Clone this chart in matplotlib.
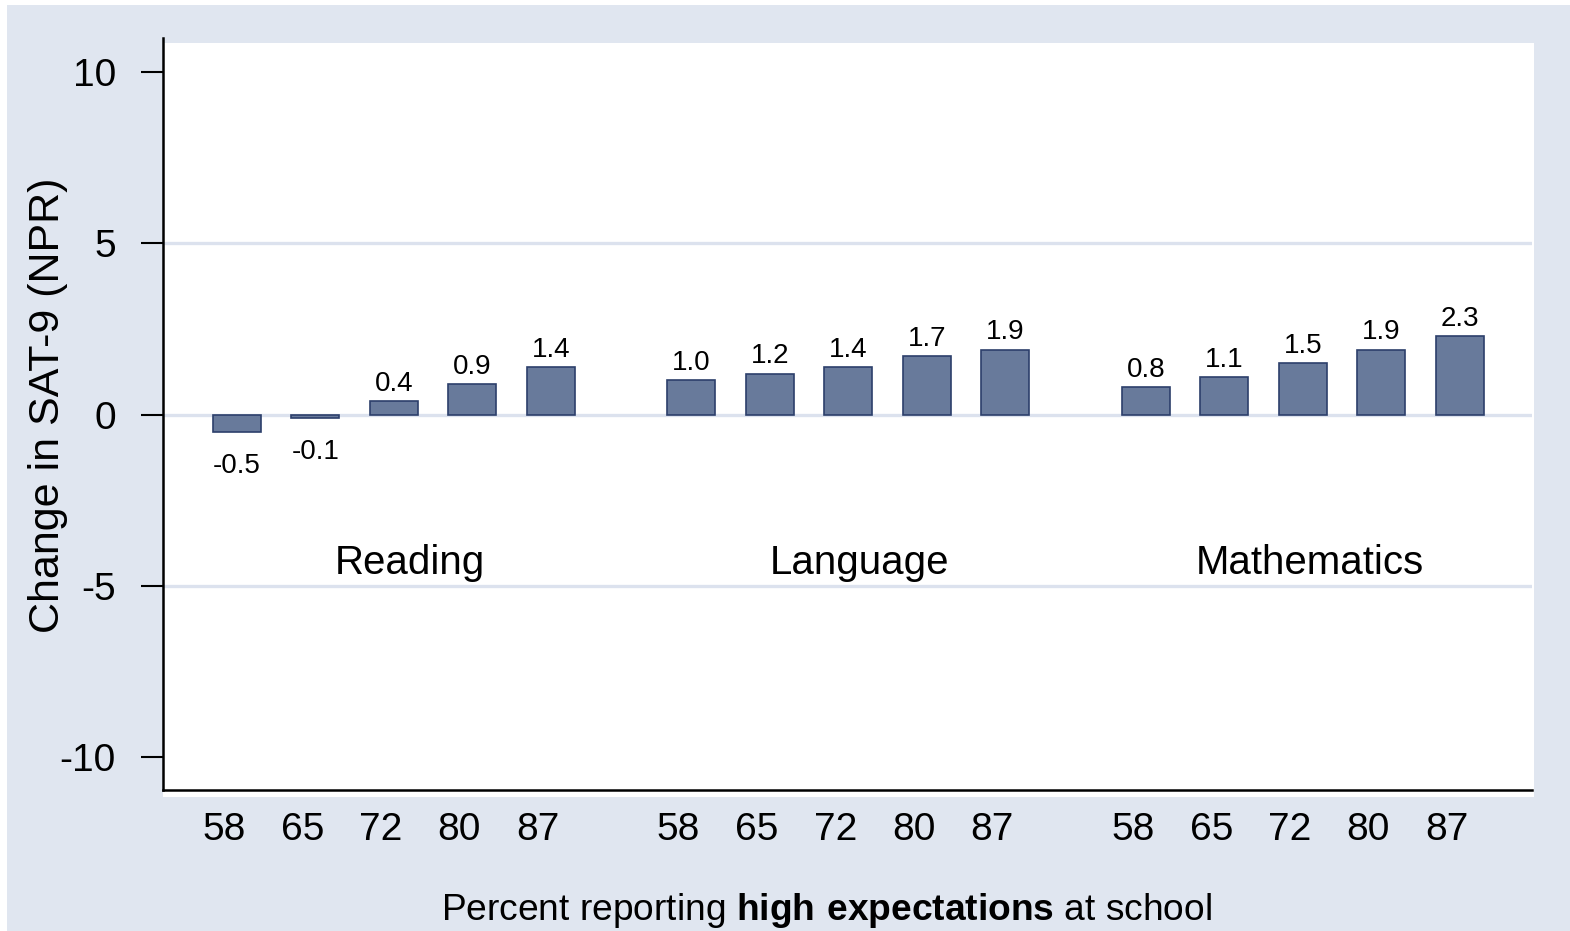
import matplotlib
matplotlib.use("Agg")
import matplotlib.pyplot as plt
import matplotlib.transforms as mtransforms
import numpy as np

plt.rcParams['font.family'] = ['Liberation Sans', 'DejaVu Sans']
plt.rcParams['mathtext.fontset'] = 'custom'
plt.rcParams['mathtext.rm'] = 'Liberation Sans'
plt.rcParams['mathtext.bf'] = 'Liberation Sans:bold'
plt.rcParams['axes.unicode_minus'] = False

subjects = ["Reading", "Language", "Mathematics"]
pct_labels = ["58", "65", "72", "80", "87"]
reading = [-0.5, -0.1, 0.4, 0.9, 1.4]
language = [1.0, 1.2, 1.4, 1.7, 1.9]
mathematics = [0.8, 1.1, 1.5, 1.9, 2.3]
series = [reading, language, mathematics]

BG = "#E0E6F0"
BAR = "#687A9B"
EDGE = "#2C3F6B"
GRID = "#DCE2EE"

fig = plt.figure(figsize=(15.7, 9.31), dpi=100)
fig.patch.set_facecolor("white")
fig.add_artist(plt.Rectangle((7/1570, 0), 1, 1 - 5/931, transform=fig.transFigure,
                             facecolor=BG, edgecolor='none', zorder=-10))
fig.add_artist(plt.Rectangle((163/1570, 1 - 797/931), (1534-163)/1570, (797-43)/931,
                             transform=fig.transFigure, facecolor='white', edgecolor='none', zorder=-5))

ax = fig.add_axes([163/1570, 1 - 790/931, (1532-163)/1570, (790-38)/931])
ax.set_facecolor('none')

group_step = 5.79
width = 0.61
xs, vals, labs = [], [], []
for g, s in enumerate(series):
    for i, v in enumerate(s):
        xs.append(g * group_step + i)
        vals.append(v)
        labs.append(pct_labels[i])

for y in (-5, 0, 5):
    ax.axhline(y, color=GRID, lw=2.4, zorder=0)

bars = ax.bar(xs, vals, width=width, color=BAR, edgecolor=EDGE, linewidth=1.2, zorder=2)
for x, v in zip(xs, vals):
    if v >= 0:
        ax.annotate(f"{v:.1f}", (x, v), xytext=(0, 3), textcoords='offset points',
                    ha='center', va='bottom', fontsize=20)
    else:
        ax.annotate(f"{v:.1f}", (x, v), xytext=(0, -15), textcoords='offset points',
                    ha='center', va='top', fontsize=20)

label_offsets = [0.2, 0.14, 0.09]
for g, name in enumerate(subjects):
    ax.text(g * group_step + 2 + label_offsets[g], -4.33, name, ha='center', va='center', fontsize=29)

ax.set_xticks(xs)
ax.set_xticklabels(labs)
ax.set_xlim(-0.94, 2 * group_step + 4 + 0.92)
ax.set_ylim(-10.96, 11.0)
ax.set_yticks([-10, -5, 0, 5, 10])
ax.tick_params(axis='x', length=0, pad=16, labelsize=28)
ax.tick_params(axis='y', length=16, width=1.5, pad=18, labelsize=28, direction='out')
shift = mtransforms.ScaledTranslation(-13/100, 0, fig.dpi_scale_trans)
for lab in ax.get_xticklabels():
    lab.set_transform(lab.get_transform() + shift)
for sp in ('top', 'right'):
    ax.spines[sp].set_visible(False)
for sp in ('left', 'bottom'):
    ax.spines[sp].set_linewidth(1.8)
    ax.spines[sp].set_color('black')

fig.text(48/1570, 1 - 405/931, "Change in SAT-9 (NPR)", rotation=90, ha='center', va='center', fontsize=31)
fig.text(826/1570, 1 - 911/931, r"Percent reporting $\mathbf{high\ expectations}$ at school",
         ha='center', va='center', fontsize=26.7)

fig.savefig("out.png", dpi=100, facecolor=fig.get_facecolor())
